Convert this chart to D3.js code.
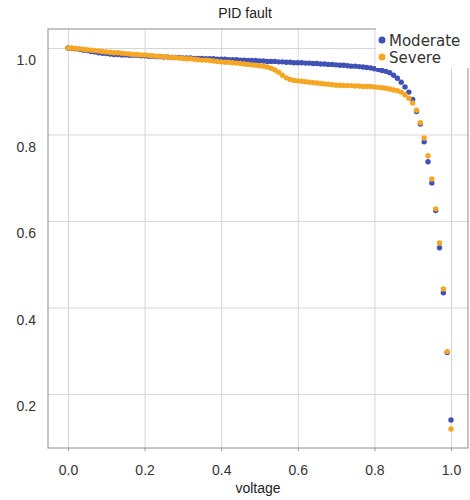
<!DOCTYPE html>
<html>
<head>
<meta charset="utf-8">
<script src="https://cdn.jsdelivr.net/npm/d3@7"></script>
<style>
  body { margin: 0; background: #fff; }
  svg { display: block; }
</style>
</head>
<body>
<script>
// x values: voltage, 0.00 .. 1.00
const voltage = [
  0.00, 0.01, 0.02, 0.03, 0.04, 0.05, 0.06, 0.07, 0.08, 0.09,
  0.10, 0.11, 0.12, 0.13, 0.14, 0.15, 0.16, 0.17, 0.18, 0.19,
  0.20, 0.21, 0.22, 0.23, 0.24, 0.25, 0.26, 0.27, 0.28, 0.29,
  0.30, 0.31, 0.32, 0.33, 0.34, 0.35, 0.36, 0.37, 0.38, 0.39,
  0.40, 0.41, 0.42, 0.43, 0.44, 0.45, 0.46, 0.47, 0.48, 0.49,
  0.50, 0.51, 0.52, 0.53, 0.54, 0.55, 0.56, 0.57, 0.58, 0.59,
  0.60, 0.61, 0.62, 0.63, 0.64, 0.65, 0.66, 0.67, 0.68, 0.69,
  0.70, 0.71, 0.72, 0.73, 0.74, 0.75, 0.76, 0.77, 0.78, 0.79,
  0.80, 0.81, 0.82, 0.83, 0.84, 0.85, 0.86, 0.87, 0.88, 0.89,
  0.90, 0.91, 0.92, 0.93, 0.94, 0.95, 0.96, 0.97, 0.98, 0.99,
  1.00
];

const moderate = [
  1.000, 0.999, 0.998, 0.997, 0.995, 0.994, 0.992, 0.991, 0.989, 0.988,
  0.987, 0.986, 0.985, 0.985, 0.984, 0.984, 0.983, 0.983, 0.983, 0.982,
  0.982, 0.981, 0.981, 0.980, 0.980, 0.979, 0.979, 0.978, 0.978, 0.978,
  0.977, 0.977, 0.977, 0.976, 0.976, 0.976, 0.975, 0.975, 0.975, 0.974,
  0.974, 0.974, 0.973, 0.973, 0.973, 0.972, 0.972, 0.971, 0.971, 0.971,
  0.970, 0.970, 0.969, 0.969, 0.969, 0.968, 0.968, 0.967, 0.967, 0.966,
  0.966, 0.966, 0.965, 0.965, 0.964, 0.964, 0.963, 0.963, 0.962, 0.962,
  0.961, 0.960, 0.960, 0.959, 0.958, 0.958, 0.957, 0.956, 0.955, 0.954,
  0.952, 0.950, 0.948, 0.946, 0.943, 0.937, 0.930, 0.921, 0.910, 0.898,
  0.881, 0.853, 0.824, 0.783, 0.737, 0.688, 0.624, 0.538, 0.434, 0.296,
  0.140
];

const severe = [
  1.000, 1.000, 0.999, 0.998, 0.997, 0.996, 0.995, 0.994, 0.993, 0.992,
  0.991, 0.990, 0.989, 0.989, 0.988, 0.987, 0.986, 0.985, 0.985, 0.984,
  0.984, 0.983, 0.982, 0.981, 0.981, 0.980, 0.979, 0.978, 0.978, 0.977,
  0.976, 0.975, 0.975, 0.974, 0.973, 0.972, 0.972, 0.971, 0.970, 0.969,
  0.968, 0.967, 0.967, 0.966, 0.965, 0.964, 0.963, 0.962, 0.961, 0.960,
  0.959, 0.958, 0.956, 0.953, 0.949, 0.944, 0.937, 0.931, 0.927, 0.925,
  0.924, 0.923, 0.922, 0.921, 0.920, 0.919, 0.918, 0.917, 0.916, 0.915,
  0.914, 0.914, 0.913, 0.913, 0.913, 0.912, 0.912, 0.911, 0.911, 0.911,
  0.910, 0.909, 0.908, 0.907, 0.905, 0.903, 0.901, 0.898, 0.892, 0.884,
  0.873, 0.856, 0.827, 0.792, 0.751, 0.697, 0.628, 0.549, 0.443, 0.298,
  0.119
];

const seriesNames = ['Moderate', 'Severe'];
const seriesColors = ['#3f51b5', '#f5a623'];
const xTicks = [0.0, 0.2, 0.4, 0.6, 0.8, 1.0];
const yTicks = [0.2, 0.4, 0.6, 0.8, 1.0];

const width = 470;
const height = 500;
const margin = { top: 29, right: 2, bottom: 52, left: 48 };
const plotW = width - margin.left - margin.right;
const plotH = height - margin.top - margin.bottom;

const xScale = d3.scaleLinear()
  .domain([-0.0522, 1.0444])
  .range([0, plotW]);

const yScale = d3.scaleLinear()
  .domain([0.0751, 1.0439])
  .range([plotH, 0]);

const svg = d3.select('body')
  .append('svg')
  .attr('width', width)
  .attr('height', height);

const graph = svg.append('g')
  .attr('transform', `translate(${margin.left},${margin.top})`);

// grid + labels via axes
const xAxis = d3.axisBottom(xScale)
  .tickValues(xTicks)
  .tickSize(-plotH)
  .tickPadding(17)
  .tickFormat(d3.format('.1f'));

const yAxis = d3.axisLeft(yScale)
  .tickValues(yTicks)
  .tickSize(-plotW)
  .tickPadding(12)
  .tickFormat(d3.format('.1f'));

const xGuide = graph.append('g')
  .attr('transform', `translate(0,${plotH})`)
  .call(xAxis);

const yGuide = graph.append('g')
  .call(yAxis);

[xGuide, yGuide].forEach(g => {
  g.select('.domain').remove();
  g.selectAll('line').attr('stroke', '#d6d6d6').attr('stroke-width', 1);
  g.selectAll('text')
    .attr('fill', '#333')
    .style('font-family', '"Liberation Sans", Arial, sans-serif')
    .style('font-size', '14px');
});

// y labels sit a bit under their grid lines in the original
yGuide.selectAll('text').attr('dy', '1.2em');

// small tick marks below the x axis
xGuide.selectAll('.tick')
  .append('line')
  .attr('y1', 0)
  .attr('y2', 3)
  .attr('stroke', '#999');

// frame
graph.append('rect')
  .attr('x', 0)
  .attr('y', 0)
  .attr('width', plotW)
  .attr('height', plotH)
  .attr('fill', 'none')
  .attr('stroke', '#8c8c8c')
  .attr('stroke-width', 1);

// points
const allSeries = [moderate, severe];
allSeries.forEach((vals, i) => {
  graph.append('g')
    .selectAll('circle')
    .data(vals)
    .enter()
    .append('circle')
    .attr('cx', (d, j) => xScale(voltage[j]))
    .attr('cy', d => yScale(d))
    .attr('r', 2.7)
    .attr('fill', seriesColors[i]);
});

// title
svg.append('text')
  .attr('x', 245)
  .attr('y', 18)
  .attr('text-anchor', 'middle')
  .attr('fill', '#222')
  .style('font-family', '"Liberation Sans", Arial, sans-serif')
  .style('font-size', '14px')
  .text('PID fault');

// x axis title
svg.append('text')
  .attr('x', margin.left + plotW / 2)
  .attr('y', 493)
  .attr('text-anchor', 'middle')
  .attr('fill', '#222')
  .style('font-family', '"Liberation Sans", Arial, sans-serif')
  .style('font-size', '14px')
  .text('voltage');

// legend
const legend = svg.append('g');
legend.append('rect')
  .attr('x', 376)
  .attr('y', 24)
  .attr('width', 94)
  .attr('height', 44)
  .attr('fill', '#fff');

const legendItems = legend.selectAll('g.item')
  .data(seriesNames)
  .enter()
  .append('g')
  .classed('item', true)
  .attr('transform', (d, i) => `translate(382,${40 + i * 17})`);

legendItems.append('circle')
  .attr('r', 3.5)
  .attr('fill', (d, i) => seriesColors[i]);

legendItems.append('text')
  .attr('x', 7)
  .attr('y', 5.5)
  .attr('fill', '#333')
  .style('font-family', '"DejaVu Sans", Verdana, sans-serif')
  .style('font-size', '15px')
  .text(d => d);
</script>
</body>
</html>
